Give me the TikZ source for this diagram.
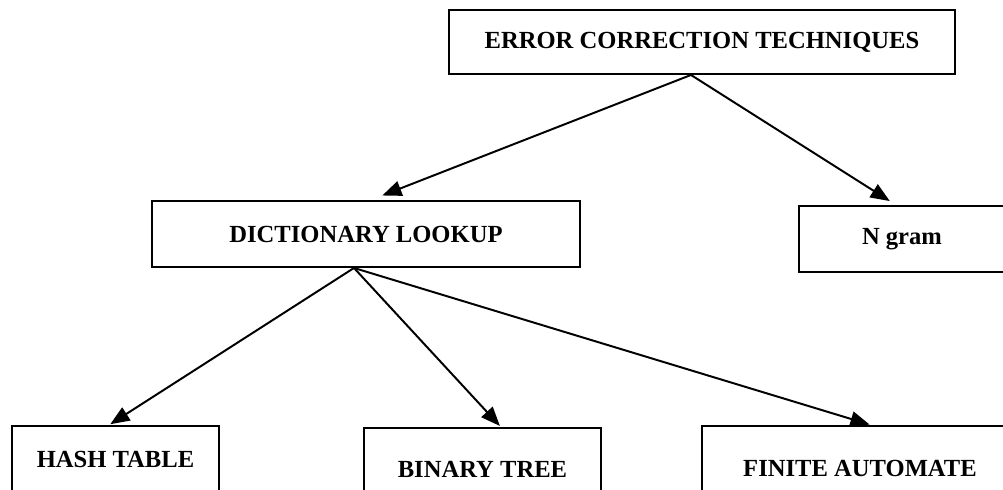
\documentclass[tikz,border=0pt]{standalone}
\usepackage{fontspec}
\setmainfont{Liberation Serif}
\usepackage{tikz}
\usetikzlibrary{shapes,arrows.meta}
\usepackage{xcolor}

\begin{document}
\begin{tikzpicture}[scale=1]
        \tikzstyle{tech}=[draw,rectangle,line width=1.4pt,fill=white,text centered,inner sep=0pt, anchor=north west,font=\fontsize{17.5}{20}\selectfont\bfseries]
        \tikzstyle{link}=[line width=1.4pt,-{Triangle[length=4.8mm,width=3.8mm]},shorten >=1pt]

        \useasboundingbox (0,0) rectangle (25.075,12.225);
        \clip (0,0) rectangle (25.075,12.225);

	    \node[tech,minimum width=12.65cm,minimum height=1.6cm] (ect) at (11.2,12.0) {ERROR CORRECTION TECHNIQUES};

	    \node[tech,minimum width=10.7cm,minimum height=1.65cm] (dict) at (3.775,7.225) {DICTIONARY LOOKUP};

	    \node[tech,minimum width=5.15cm,minimum height=1.65cm] (ngram) at (19.95,7.1) {N gram};

	    \node[tech,minimum width=5.175cm,minimum height=1.65cm] (hash) at (0.275,1.6) {HASH TABLE};

	    \node[tech,minimum width=5.925cm,minimum height=2.05cm] (btree) at (9.075,1.55) {BINARY TREE};

	    \node[tech,minimum width=7.9cm,minimum height=2.1cm] (fa) at (17.525,1.6) {FINITE AUTOMATE};

	    \draw[link] ([xshift=-0.275cm]ect.south) -- ([xshift=0.375cm,yshift=0.1cm]dict.north);
	    \draw[link] ([xshift=-0.275cm]ect.south) -- ([xshift=-0.275cm,yshift=0.08cm]ngram.north);

	    \draw[link] ([xshift=-0.3cm]dict.south) -- ([xshift=-0.16cm]hash.north); % lookup methods
	    \draw[link] ([xshift=-0.3cm]dict.south) -- ([xshift=0.46cm]btree.north);
	    \draw[link] ([xshift=-0.3cm]dict.south) -- ([xshift=0.275cm]fa.north);

	\end{tikzpicture}
\end{document}
